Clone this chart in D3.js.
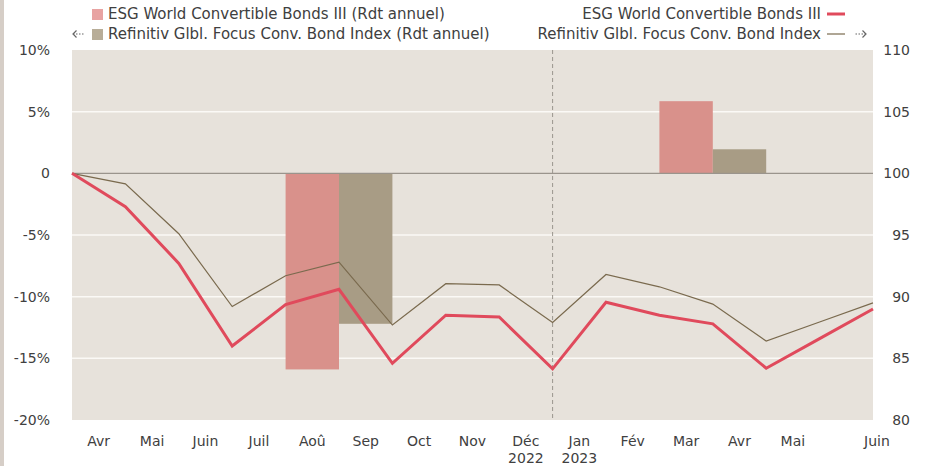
<!DOCTYPE html>
<html>
<head>
<meta charset="utf-8">
<script src="https://cdn.jsdelivr.net/npm/d3@7"></script>
<style>
  body { margin: 0; background: #fff; }
  svg text { font-family: "DejaVu Sans", Verdana, sans-serif; fill: #404040; }
</style>
</head>
<body>
<div id="chart"></div>
<script>
// Month-end points, mars 2022 -> juin 2023 (base 100)
const pointLabels = ["Mar", "Avr", "Mai", "Juin", "Juil", "Aoû", "Sep", "Oct", "Nov", "Déc", "Jan", "Fév", "Mar", "Avr", "Mai", "Juin"];
const esgValues = [100, 97.3, 92.7, 86.0, 89.35, 90.6, 84.6, 88.5, 88.35, 84.15, 89.55, 88.5, 87.8, 84.2, 86.6, 89.0];
const refValues = [100, 99.15, 95.1, 89.2, 91.7, 92.8, 87.7, 91.05, 90.95, 87.9, 91.8, 90.8, 89.4, 86.4, 87.95, 89.5];

// Annual returns (%) drawn as bars around a month-end point
const barYears = ["2022", "2023"];
const barPoints = [5, 12];
const esgAnnual = [-15.9, 5.85];
const refAnnual = [-12.2, 1.95];

const leftTicks = [10, 5, 0, -5, -10, -15, -20];
const rightTicks = [110, 105, 100, 95, 90, 85, 80];
const yearLabels = [["2022", 9], ["2023", 10]];

const width = 925, height = 466;
const plot = { left: 72, right: 873, top: 50, bottom: 420 };

const svg = d3.select("#chart").append("svg")
  .attr("width", width)
  .attr("height", height);

// left grey strip
svg.append("rect").attr("x", 0).attr("y", 0).attr("width", 4).attr("height", height).attr("fill", "#d6cec7");

// Scales
const x = d3.scaleLinear().domain([0, pointLabels.length - 1]).range([plot.left, plot.right]);
const yPct = d3.scaleLinear().domain([-20, 10]).range([plot.bottom, plot.top]);
const yIdx = d3.scaleLinear().domain([80, 110]).range([plot.bottom, plot.top]);

// Plot background
svg.append("rect")
  .attr("x", plot.left).attr("y", plot.top)
  .attr("width", plot.right - plot.left).attr("height", plot.bottom - plot.top)
  .attr("fill", "#e7e2db");

// Grid lines
svg.append("g")
  .selectAll("line")
  .data(leftTicks.filter((d) => d !== 0 && d !== 10 && d !== -20))
  .enter()
  .append("line")
  .attr("x1", plot.left).attr("x2", plot.right)
  .attr("y1", (d) => yPct(d)).attr("y2", (d) => yPct(d))
  .attr("stroke", "#fbf9f6").attr("stroke-width", 1.5);

// Year separator
svg.append("line")
  .attr("x1", x(9)).attr("x2", x(9))
  .attr("y1", plot.top).attr("y2", plot.bottom)
  .attr("stroke", "#9a958e").attr("stroke-width", 1)
  .attr("stroke-dasharray", "4,3");

// Bars
const step = x(1) - x(0);
svg.append("g")
  .selectAll("rect")
  .data(barPoints)
  .enter()
  .append("rect")
  .attr("x", (d) => x(d) - step)
  .attr("width", step)
  .attr("y", (d, i) => yPct(Math.max(0, esgAnnual[i])))
  .attr("height", (d, i) => Math.abs(yPct(esgAnnual[i]) - yPct(0)))
  .attr("fill", "#d9918b");

svg.append("g")
  .selectAll("rect")
  .data(barPoints)
  .enter()
  .append("rect")
  .attr("x", (d) => x(d))
  .attr("width", step)
  .attr("y", (d, i) => yPct(Math.max(0, refAnnual[i])))
  .attr("height", (d, i) => Math.abs(yPct(refAnnual[i]) - yPct(0)))
  .attr("fill", "#a89c85");

// Zero line
svg.append("line")
  .attr("x1", plot.left).attr("x2", plot.right)
  .attr("y1", yPct(0)).attr("y2", yPct(0))
  .attr("stroke", "#9a948c").attr("stroke-width", 1.2);

// Lines
const line = d3.line().x((d, i) => x(i)).y((d) => yIdx(d));

svg.append("path")
  .datum(refValues)
  .attr("fill", "none")
  .attr("stroke", "#7a6a4e")
  .attr("stroke-width", 1.2)
  .attr("d", line);

svg.append("path")
  .datum(esgValues)
  .attr("fill", "none")
  .attr("stroke", "#e04a5c")
  .attr("stroke-width", 3)
  .attr("d", line);

// Left axis labels
svg.append("g")
  .selectAll("text")
  .data(leftTicks)
  .enter()
  .append("text")
  .attr("x", 50)
  .attr("y", (d) => yPct(d))
  .attr("dy", "0.35em")
  .attr("text-anchor", "end")
  .style("font-size", "14px")
  .text((d) => (d === 0 ? "0" : d + "%"));

// Right axis labels
svg.append("g")
  .selectAll("text")
  .data(rightTicks)
  .enter()
  .append("text")
  .attr("x", 910)
  .attr("y", (d) => yIdx(d))
  .attr("dy", "0.35em")
  .attr("text-anchor", "end")
  .style("font-size", "14px")
  .text((d) => d);

// Month labels (centred on each month's period, last one on the end point)
const last = pointLabels.length - 1;
svg.append("g")
  .selectAll("text")
  .data(pointLabels.slice(1))
  .enter()
  .append("text")
  .attr("x", (d, i) => (i + 1 === last ? x(last) + 4 : x(i + 0.5)))
  .attr("y", 446)
  .attr("text-anchor", "middle")
  .style("font-size", "14px")
  .text((d) => d);

svg.append("g")
  .selectAll("text")
  .data(yearLabels)
  .enter()
  .append("text")
  .attr("x", (d) => x(d[1] - 0.5))
  .attr("y", 463)
  .attr("text-anchor", "middle")
  .style("font-size", "14px")
  .text((d) => d[0]);

// Legend
const legend = svg.append("g").style("font-size", "15px");

// small dotted arrow used in the legend
const dottedArrow = (g, x0, y0, dir) => {
  g.append("line")
    .attr("x1", x0).attr("x2", x0 + 12 * dir)
    .attr("y1", y0).attr("y2", y0)
    .attr("stroke", "#666").attr("stroke-width", 1.2)
    .attr("stroke-dasharray", "1.5,1.5");
  g.append("path")
    .attr("d", `M${x0 + 3.5 * dir},${y0 - 3.5}L${x0},${y0}L${x0 + 3.5 * dir},${y0 + 3.5}`)
    .attr("fill", "none").attr("stroke", "#666").attr("stroke-width", 1.2);
};

legend.append("rect").attr("x", 92).attr("y", 9).attr("width", 11).attr("height", 11).attr("fill", "#e8a3a2");
legend.append("text").attr("x", 108).attr("y", 14).attr("dy", "0.35em").text("ESG World Convertible Bonds III (Rdt annuel)");

dottedArrow(legend, 73, 34, 1);
legend.append("rect").attr("x", 92).attr("y", 29).attr("width", 11).attr("height", 11).attr("fill", "#b8ad98");
legend.append("text").attr("x", 108).attr("y", 34).attr("dy", "0.35em").text("Refinitiv Glbl. Focus Conv. Bond Index (Rdt annuel)");

legend.append("text").attr("x", 821).attr("y", 14).attr("dy", "0.35em").attr("text-anchor", "end").text("ESG World Convertible Bonds III");
legend.append("line").attr("x1", 827).attr("x2", 845).attr("y1", 14).attr("y2", 14).attr("stroke", "#e04a5c").attr("stroke-width", 3);

legend.append("text").attr("x", 821).attr("y", 34).attr("dy", "0.35em").attr("text-anchor", "end").text("Refinitiv Glbl. Focus Conv. Bond Index");
legend.append("line").attr("x1", 827).attr("x2", 845).attr("y1", 34).attr("y2", 34).attr("stroke", "#7a6a4e").attr("stroke-width", 1.2);
dottedArrow(legend, 866, 34, -1);
</script>
</body>
</html>
